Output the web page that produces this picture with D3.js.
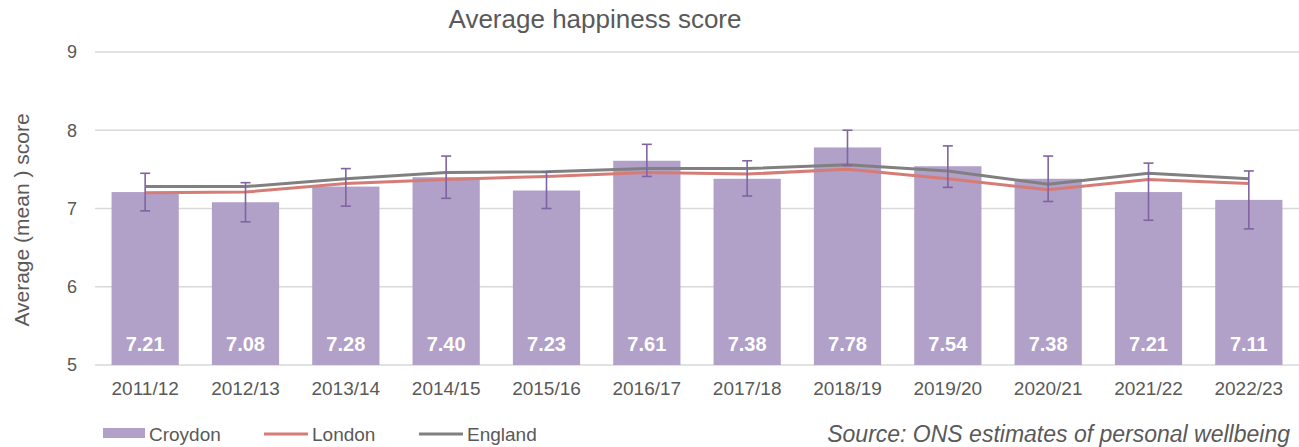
<!DOCTYPE html>
<html>
<head>
<meta charset="utf-8">
<script src="https://cdn.jsdelivr.net/npm/d3@7"></script>
<style>
  body { margin: 0; background: #fff; }
  text { font-family: "Liberation Sans", Arial, sans-serif; fill: #595959; }
</style>
</head>
<body>
<div id="chart"></div>
<script>
// chart data
var years = ["2011/12", "2012/13", "2013/14", "2014/15", "2015/16", "2016/17",
  "2017/18", "2018/19", "2019/20", "2020/21", "2021/22", "2022/23"];
var croydon = [7.21, 7.08, 7.28, 7.40, 7.23, 7.61, 7.38, 7.78, 7.54, 7.38, 7.21, 7.11];
var croydonUpper = [7.45, 7.33, 7.51, 7.67, 7.47, 7.82, 7.61, 8.00, 7.80, 7.67, 7.58, 7.48];
var croydonLower = [6.97, 6.83, 7.03, 7.13, 7.00, 7.41, 7.16, 7.55, 7.27, 7.09, 6.85, 6.74];
var london = [7.20, 7.21, 7.32, 7.37, 7.41, 7.46, 7.44, 7.50, 7.38, 7.24, 7.37, 7.32];
var england = [7.28, 7.28, 7.38, 7.46, 7.47, 7.51, 7.51, 7.56, 7.48, 7.31, 7.45, 7.38];
var yTicks = [5, 6, 7, 8, 9];

var svgWidth = 1299;
var svgHeight = 447;

var margin = { top: 52, right: 0, bottom: 82, left: 95 };
var chartWidth = svgWidth - margin.left - margin.right;
var chartHeight = svgHeight - margin.top - margin.bottom;

var svg = d3.select("#chart")
  .append("svg")
  .attr("width", svgWidth)
  .attr("height", svgHeight);

var chartGroup = svg.append("g")
  .attr("transform", `translate(${margin.left}, ${margin.top})`);

var xScale = d3.scaleBand()
  .domain(years)
  .range([0, chartWidth])
  .paddingInner(0.33)
  .paddingOuter(0.165);

var yScale = d3.scaleLinear()
  .domain([5, 9])
  .range([chartHeight, 0]);

// gridlines
chartGroup.append("g").selectAll("line")
  .data(yTicks)
  .enter()
  .append("line")
  .attr("x1", 0)
  .attr("x2", chartWidth)
  .attr("y1", d => yScale(d))
  .attr("y2", d => yScale(d))
  .attr("stroke", "#d9d9d9")
  .attr("stroke-width", 1.3);

// y axis
var leftAxis = d3.axisLeft(yScale).tickValues(yTicks).tickFormat(d3.format("d"))
  .tickSize(0).tickPadding(18);
var yAxisG = chartGroup.append("g").call(leftAxis);
yAxisG.select(".domain").remove();
yAxisG.selectAll("text").style("font-size", "18px").attr("fill", "#595959");

// x axis
var bottomAxis = d3.axisBottom(xScale).tickSize(0).tickPadding(16.5);
var xAxisG = chartGroup.append("g")
  .attr("transform", `translate(0, ${chartHeight})`)
  .call(bottomAxis);
xAxisG.select(".domain").remove();
xAxisG.selectAll("text").style("font-size", "19px").attr("fill", "#595959");

// bars
chartGroup.append("g").selectAll("rect")
  .data(croydon)
  .enter()
  .append("rect")
  .attr("x", (d, i) => xScale(years[i]))
  .attr("y", d => yScale(d))
  .attr("width", xScale.bandwidth())
  .attr("height", d => chartHeight - yScale(d))
  .attr("fill", "#b1a0c7");

// bar labels
chartGroup.append("g").selectAll("text")
  .data(croydon)
  .enter()
  .append("text")
  .attr("x", (d, i) => xScale(years[i]) + xScale.bandwidth() / 2)
  .attr("y", chartHeight - 14)
  .attr("text-anchor", "middle")
  .style("fill", "#fff")
  .style("font-size", "20px")
  .style("font-weight", "bold")
  .text(d => d.toFixed(2));

var cx = i => xScale(years[i]) + xScale.bandwidth() / 2;

// lines
var line = d3.line()
  .x((d, i) => cx(i))
  .y(d => yScale(d));

chartGroup.append("path")
  .datum(england)
  .attr("d", line)
  .attr("fill", "none")
  .attr("stroke", "#808080")
  .attr("stroke-width", 3);

chartGroup.append("path")
  .datum(london)
  .attr("d", line)
  .attr("fill", "none")
  .attr("stroke", "#d57c77")
  .attr("stroke-width", 3);

// error bars
var errGroup = chartGroup.append("g")
  .attr("stroke", "#8064a2")
  .attr("stroke-width", 1.6);

years.forEach(function(y, i) {
  var x = cx(i);
  errGroup.append("line")
    .attr("x1", x).attr("x2", x)
    .attr("y1", yScale(croydonUpper[i]))
    .attr("y2", yScale(croydonLower[i]));
  [croydonUpper[i], croydonLower[i]].forEach(function(v) {
    errGroup.append("line")
      .attr("x1", x - 5).attr("x2", x + 5)
      .attr("y1", yScale(v)).attr("y2", yScale(v));
  });
});

// title
svg.append("text")
  .attr("x", 595)
  .attr("y", 28)
  .attr("text-anchor", "middle")
  .style("font-size", "26px")
  .text("Average happiness score");

// y axis label
svg.append("text")
  .attr("transform", "rotate(-90)")
  .attr("x", -220)
  .attr("y", 29)
  .attr("text-anchor", "middle")
  .style("font-size", "21px")
  .text("Average (mean ) score");

// legend
var legend = svg.append("g").attr("transform", "translate(0, 434)");
legend.append("rect")
  .attr("x", 103).attr("y", -6).attr("width", 42).attr("height", 10)
  .attr("fill", "#b1a0c7");
legend.append("text").attr("x", 149).attr("y", 7).style("font-size", "19px").text("Croydon");
legend.append("line")
  .attr("x1", 264).attr("x2", 308).attr("y1", 0).attr("y2", 0)
  .attr("stroke", "#d57c77").attr("stroke-width", 3);
legend.append("text").attr("x", 312).attr("y", 7).style("font-size", "19px").text("London");
legend.append("line")
  .attr("x1", 419).attr("x2", 463).attr("y1", 0).attr("y2", 0)
  .attr("stroke", "#808080").attr("stroke-width", 3);
legend.append("text").attr("x", 467).attr("y", 7).style("font-size", "19px").text("England");

// source
svg.append("text")
  .attr("x", 1290)
  .attr("y", 442)
  .attr("text-anchor", "end")
  .style("font-size", "23px")
  .style("font-style", "italic")
  .text("Source: ONS estimates of personal wellbeing");
</script>
</body>
</html>
